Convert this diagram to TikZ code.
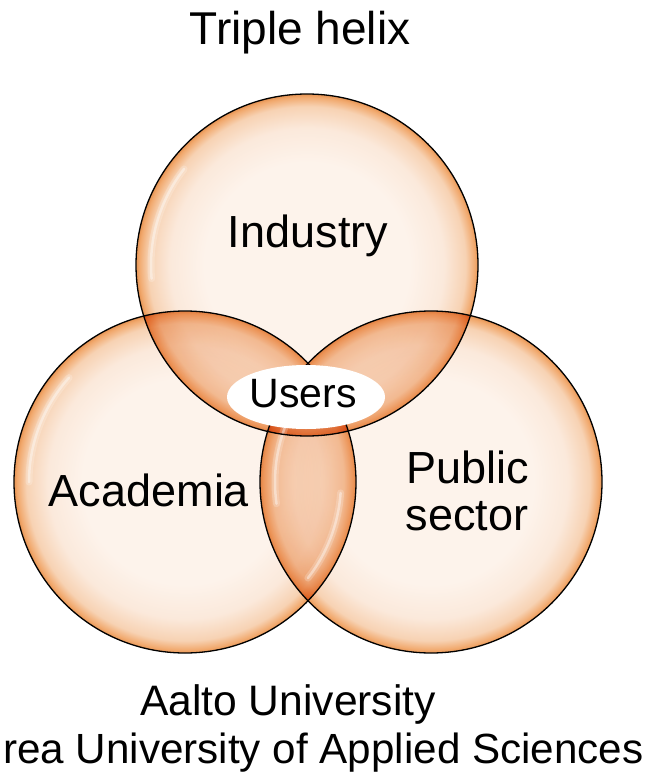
\documentclass[tikz,border=0pt]{standalone}
\usepackage{fontspec}
\setmainfont{Liberation Sans}
\usetikzlibrary{shapes.geometric}
\definecolor{pcenter}{HTML}{FDF3EB}
\definecolor{plight}{HTML}{FBE9DB}
\definecolor{pmid}{HTML}{F7D2B3}
\definecolor{pedge}{HTML}{F1A86C}
\definecolor{pdark}{HTML}{E59353}
\definecolor{lensc}{HTML}{FCEDE1}
\pgfdeclareradialshading{peach}{\pgfpoint{0bp}{0bp}}{color(0bp)=(pcenter); color(15bp)=(pcenter); color(20bp)=(plight); color(23.2bp)=(pmid); color(24.6bp)=(pedge); color(25bp)=(pdark); color(50bp)=(pdark)}
\tikzset{
  bubble/.style={shading=peach},
  rim/.style={draw=black, line width=1.3pt},
  glossA/.style={draw=white, line width=7pt, opacity=0.2, line cap=round},
  glossB/.style={draw=white, line width=2.5pt, opacity=0.4, line cap=round},
  lbl/.style={font=\fontsize{45}{54}\selectfont, anchor=base, inner sep=0pt},
}
\newcommand{\glossarc}[4]{%
  \draw[glossA] ([shift={(#2:#4)}]#1) arc[start angle=#2, end angle=#3, radius=#4];
  \draw[glossB] ([shift={(#2:#4)}]#1) arc[start angle=#2, end angle=#3, radius=#4];}
\begin{document}
\begin{tikzpicture}[x=1pt,y=-1pt]
\useasboundingbox (0,0) rectangle (649,775);
\fill[white] (0,0) rectangle (649,775);
\coordinate (ci) at (307,265);
\coordinate (ca) at (185,482);
\coordinate (cp) at (431,482);
\begin{scope}[blend mode=multiply]
  \shade[bubble] (ci) circle[radius=171];
  \shade[bubble] (ca) circle[radius=171];
  \shade[bubble] (cp) circle[radius=171];
  \begin{scope}
    \clip (ci) circle[radius=171];
    \fill[lensc] (ca) circle[radius=171];
    \fill[lensc] (cp) circle[radius=171];
  \end{scope}
  \begin{scope}
    \clip (ca) circle[radius=171];
    \fill[lensc] (cp) circle[radius=171];
  \end{scope}
\end{scope}
% glossy highlights
\glossarc{ci}{175}{218}{156}
\glossarc{ca}{180}{222}{156}
\glossarc{cp}{172}{220}{156}
\glossarc{ca}{4}{38}{156}
\draw[rim] (ci) circle[radius=171];
\draw[rim] (ca) circle[radius=171];
\draw[rim] (cp) circle[radius=171];
\node[fill=white, ellipse, minimum width=158, minimum height=64, inner sep=0pt] (usersbg) at (306,397) {};
\node[lbl, font=\fontsize{41}{49}\selectfont] (users) at (303,407) {Users};
\node[lbl, font=\fontsize{46}{55}\selectfont] (title) at (300,45) {Triple helix};
\node[lbl] (industry) at (308,248) {Industry};
\node[lbl] (academia) at (149,506) {Academia};
\node[lbl] (public) at (468,483) {Public};
\node[lbl] (sector) at (467,530) {sector};
\node[lbl, font=\fontsize{42.6}{51}\selectfont] (aalto) at (288,715) {Aalto University};
\node[lbl, font=\fontsize{42.2}{51}\selectfont, anchor=base west] (laurea) at (3,763) {rea University of Applied Sciences};
\end{tikzpicture}
\end{document}
